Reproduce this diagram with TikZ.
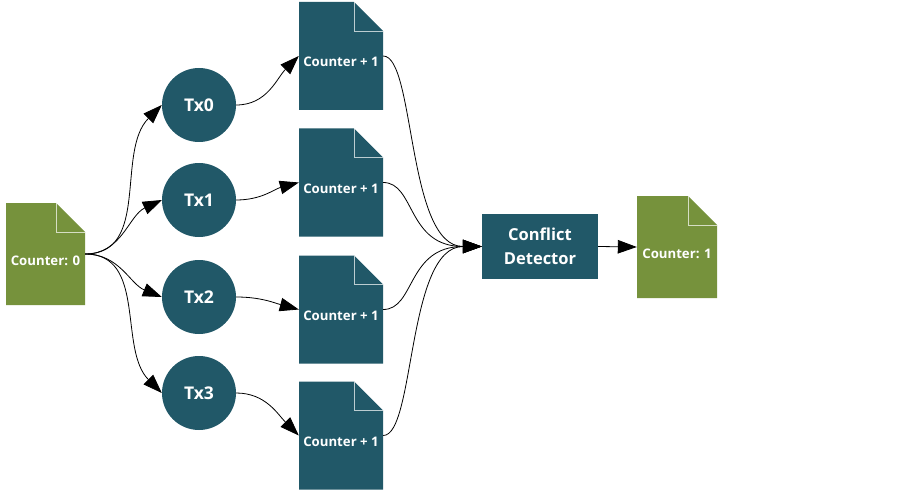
\documentclass[tikz,border=0pt]{standalone}
\usepackage{fontspec}
\setmainfont{Open Sans}
\usetikzlibrary{arrows.meta}
\definecolor{slateteal}{HTML}{215868}
\definecolor{olivegreen}{HTML}{76923C}
\tikzset{
  foldline/.style={draw=white, draw opacity=0.7, line width=0.9pt},
  docpage/.style={rectangle, fill=white, minimum width=84pt, minimum height=108pt, inner sep=0pt,
    text=white, font=\bfseries\fontsize{13.2}{15}\selectfont, text height=22pt, text depth=0pt,
    path picture={
      \fill[#1] (path picture bounding box.south west) -- (path picture bounding box.north west)
        -- ([xshift=-29pt]path picture bounding box.north east) -- ([yshift=-29pt]path picture bounding box.north east)
        -- (path picture bounding box.south east) -- cycle;
      \draw[foldline] ([xshift=-29pt]path picture bounding box.north east) |- ([yshift=-29pt]path picture bounding box.north east);
    }},
  txnode/.style={circle, fill=slateteal, minimum size=74pt, inner sep=0pt, text=white, font=\bfseries\fontsize{17.5}{19}\selectfont},
  procbox/.style={rectangle, fill=slateteal, minimum width=116pt, minimum height=65pt, inner sep=0pt, text=white,
    align=center, font=\bfseries\fontsize{16.5}{24}\selectfont},
  flow/.style={-{Triangle[length=19pt,width=13.5pt]}, line width=0.8pt}
}
\begin{document}
\begin{tikzpicture}[x=1pt,y=1pt]
\useasboundingbox (0,0) rectangle (905,-492);
% Document Nodes
\node[docpage=olivegreen, minimum width=79pt, minimum height=102pt] (cnt0) at (45.5,-254) {Counter: 0};
\node[docpage=slateteal] (inc0) at (341,-56) {Counter + 1};
\node[docpage=slateteal] (inc1) at (341,-182.5) {Counter + 1};
\node[docpage=slateteal] (inc2) at (341,-309.5) {Counter + 1};
\node[docpage=slateteal] (inc3) at (341,-435.5) {Counter + 1};
\node[docpage=olivegreen, minimum width=80pt, minimum height=102pt] (cnt1) at (677,-247) {Counter: 1};
% Circle Nodes
\node[txnode] (tx0) at (199,-105) {Tx0};
\node[txnode] (tx1) at (199,-200) {Tx1};
\node[txnode] (tx2) at (199,-297) {Tx2};
\node[txnode] (tx3) at (199,-393) {Tx3};
% Process Node
\node[procbox] (det) at (540,-246.5) {Conflict\\Detector};

%Curve Lines
\draw[flow] (cnt0.east) to[out=0,in=225] (tx0.west);
\draw[flow] (cnt0.east) to[out=0,in=205] (tx1.west);
\draw[flow] (cnt0.east) to[out=0,in=158] (tx2.west);
\draw[flow] (cnt0.east) to[out=0,in=135] (tx3.west);
%Curve Lines
\draw[flow] (tx0.east) to[out=0,in=225] (inc0.west);
\draw[flow] (tx1.east) to[out=0,in=195] (inc1.west);
\draw[flow] (tx2.east) to[out=0,in=165] (inc2.west);
\draw[flow] (tx3.east) to[out=0,in=135] (inc3.west);
%Curve Lines
\draw[flow] (inc0.east) .. controls +(32,0) and +(-75,0) .. (det.west);
\draw[flow] (inc1.east) .. controls +(32,0) and +(-75,0) .. (det.west);
\draw[flow] (inc2.east) .. controls +(32,0) and +(-75,0) .. (det.west);
\draw[flow] (inc3.east) .. controls +(32,0) and +(-75,0) .. (det.west);
%Straight Lines
\draw[flow] (det.east) -- (cnt1.west);
\end{tikzpicture}
\end{document}
